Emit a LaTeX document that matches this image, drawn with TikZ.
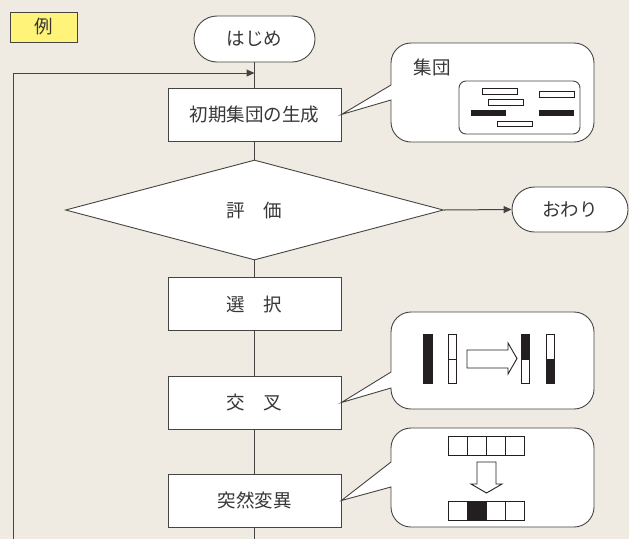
\documentclass[tikz,border=0pt]{standalone}
\usepackage{fontspec}
\setmainfont{Noto Sans CJK JP}
\usetikzlibrary{shapes.geometric,arrows.meta}
\definecolor{bg}{RGB}{239,235,226}
\definecolor{ln}{RGB}{70,68,66}
\definecolor{tx}{RGB}{55,55,55}
\definecolor{yel}{RGB}{255,243,122}
\definecolor{blk}{RGB}{35,31,32}
\begin{document}
\begin{tikzpicture}[x=1pt,y=-1pt,
  every node/.style={text=tx,font=\fontsize{18.5}{20}\selectfont},
  proc/.style={draw=ln,fill=white,line width=0.9pt,minimum width=173pt,minimum height=53pt,inner sep=0pt},
  term/.style={draw=ln,fill=white,line width=0.9pt,rounded corners=22.5pt,inner sep=0pt},
  link/.style={draw=ln,line width=1pt},
  bub/.style={draw=ln,fill=white,line width=0.9pt,line join=miter},
  cell/.style={draw=blk,fill=white,line width=0.9pt},
  cellb/.style={draw=blk,fill=blk,line width=0.9pt},
  tipstyle/.style={-{Triangle[length=8pt,width=7pt]}}]
\useasboundingbox (0,0) rectangle (629,539);
\fill[bg] (0,0) rectangle (629,539);

% nodes
\node[draw=ln,fill=yel,line width=0.9pt,minimum width=67pt,minimum height=30pt,inner sep=0pt] (rei) at (43.5,27) {例};
\node[term,minimum width=121pt,minimum height=46pt,rounded corners=23pt] (start) at (254.5,39) {はじめ};
\node[proc] (init) at (254.5,114.5) {初期集団の生成};
\node[diamond,draw=ln,fill=white,line width=0.9pt,minimum width=378pt,minimum height=100pt,inner sep=0pt] (eval) at (254.5,210) {評　価};
\node[term,minimum width=116pt,minimum height=45pt] (end) at (570,209.5) {おわり};
\node[proc] (sel) at (254.5,304) {選　択};
\node[proc] (cross) at (254.5,402.5) {交　叉};
\node[proc] (mut) at (254.5,500.5) {突然変異};

\coordinate (bot) at (254.5,539);
\coordinate (lb) at (13,539);
\coordinate (lt) at (13,73);
\coordinate (lj) at (254.5,73);

% connectors
\draw[link] (start) -- (init);
\draw[link] (init) -- (eval);
\draw[link] (eval) -- (sel);
\draw[link] (sel) -- (cross);
\draw[link] (cross) -- (mut);
\draw[link] (mut) -- (bot);
\draw[link,tipstyle] (eval.east) -- (end.west);
\draw[link,tipstyle] (lb) -- (lt) -- (lj);

% callout 1: population
\draw[bub] (391,85) -- (391,63) arc(180:270:20) -- (574,43) arc(270:360:20) -- (594,122) arc(0:90:20) -- (411,142) arc(90:180:20) -- (391,100) -- (init.east) -- cycle;
\node[anchor=center] (pop) at (432,67) {集団};
\draw[draw=ln,line width=0.9pt,rounded corners=7pt] (459,81) rectangle (580,134);
\draw[cell] (482,88) rectangle (517,94);
\draw[cell] (539,91) rectangle (574,97);
\draw[cell] (488,99) rectangle (523,105);
\fill[blk] (471,110) rectangle (506,116);
\fill[blk] (539,110) rectangle (574,116);
\draw[cell] (497,121) rectangle (532,126);

% callout 2: crossover
\draw[bub] (391,372) -- (391,332) arc(180:270:20) -- (574,312) arc(270:360:20) -- (594,389) arc(0:90:20) -- (411,409) arc(90:180:20) -- (391,388) -- (cross.east) -- cycle;
\draw[cellb] (423,334) rectangle (432,383);
\draw[cell] (448,334) rectangle (456,383);
\draw[blk,line width=0.9pt] (448,359) -- (456,359);
\draw[cell,line join=miter] (467,350) -- (508,350) -- (508,343) -- (517,358.5) -- (508,374) -- (508,368) -- (467,368) -- cycle;
\draw[cellb] (521,334) rectangle (529,359);
\draw[cell] (521,359) rectangle (529,383);
\draw[cell] (546,334) rectangle (554,359);
\draw[cellb] (546,359) rectangle (554,383);

% callout 3: mutation
\draw[bub] (391,462) -- (391,448) arc(180:270:20) -- (574,428) arc(270:360:20) -- (594,507) arc(0:90:20) -- (411,527) arc(90:180:20) -- (391,487) -- (mut.east) -- cycle;
\foreach \i in {0,1,2,3} {
  \draw[cell] ({448+19*\i},436) rectangle ({467+19*\i},455);
}
\draw[cell,line join=miter] (477,462) -- (496,462) -- (496,484) -- (502,484) -- (486.5,493) -- (471,484) -- (477,484) -- cycle;
\draw[cell] (448,501) rectangle (467,520);
\draw[cellb] (467,501) rectangle (486,520);
\draw[cell] (486,501) rectangle (505,520);
\draw[cell] (505,501) rectangle (524,520);
\end{tikzpicture}
\end{document}
